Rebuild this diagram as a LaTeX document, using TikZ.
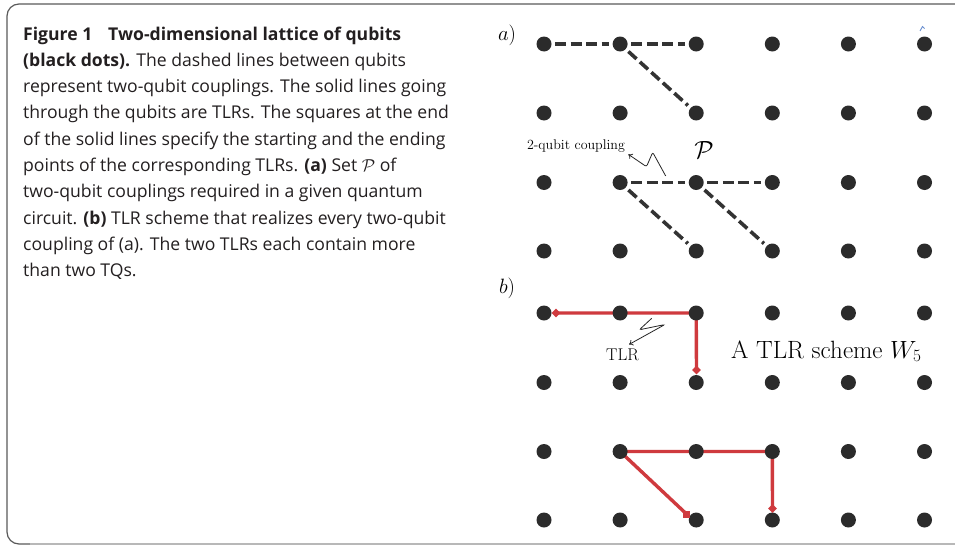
\documentclass[tikz,border=0pt]{standalone}
\usepackage{fontspec}
\newfontfamily\capfont{Open Sans}
\usetikzlibrary{shapes.geometric,arrows.meta}
\pgfdeclarelayer{background}
\pgfsetlayers{background,main}
\definecolor{dotc}{HTML}{2B2B2B}
\definecolor{dashc}{HTML}{333333}
\definecolor{tlrc}{HTML}{CF3A3E}
\definecolor{txtc}{HTML}{231F20}
\definecolor{framec}{HTML}{5A5A5A}
\definecolor{framel}{HTML}{B8B8B8}
\definecolor{markc}{HTML}{6A8FD0}
\begin{document}
\begin{tikzpicture}[x=1pt,y=-1pt,
  qubit/.style={circle,fill=dotc,inner sep=0pt,minimum size=15pt},
  coupling/.style={draw=dashc,line width=3.6pt,dash pattern=on 11pt off 4.5pt,shorten <=3.5pt,shorten >=3.5pt},
  tlr/.style={draw=tlrc,line width=3.4pt},
  tlrdiamond/.style={diamond,fill=tlrc,inner sep=0pt,minimum size=9pt},
  tlrsquare/.style={rectangle,fill=tlrc,inner sep=0pt,minimum size=7pt},
  pointer/.style={draw=black!85,line width=0.8pt,rounded corners=2pt,-{To[length=4pt,width=6pt]}},
  capline/.style={anchor=base west,inner sep=0pt,font=\capfont\fontsize{17.6}{20}\selectfont,text=txtc},
  smalllbl/.style={font=\fontsize{14}{16}\selectfont,inner sep=0pt},
  panellbl/.style={font=\fontsize{20}{24}\selectfont,inner sep=0pt}
]
\useasboundingbox (0,0) rectangle (955,546);
\begin{pgfonlayer}{background}
\fill[white] (0,0) rectangle (955,546);
\end{pgfonlayer}
% frame
\draw[framec,line width=1.2pt,rounded corners=12pt] (955,4) -- (7,4) -- (7,544) -- (30,544);
\draw[framel,line width=1.2pt] (30,544) -- (955,544);
% caption
\foreach \i/\t in {
 1/{\textbf{Figure 1}\hspace{0.9em}\textbf{Two-dimensional lattice of qubits}},
 2/{\textbf{(black dots).} The dashed lines between qubits},
 3/{represent two-qubit couplings. The solid lines going},
 4/{through the qubits are TLRs. The squares at the end},
 5/{of the solid lines specify the starting and the ending},
 6/{points of the corresponding TLRs. \textbf{(a)} Set $\mathcal{P}$ of},
 7/{two-qubit couplings required in a given quantum},
 8/{circuit. \textbf{(b)} TLR scheme that realizes every two-qubit},
 9/{coupling of (a). The two TLRs each contain more},
 10/{than two TQs.}}
 \node[capline] (cap\i) at (23,{40+26.33*(\i-1)}) {\t};
% qubits
\foreach \r/\y in {1/44,2/113,3/182.5,4/251}
  \foreach \c in {1,...,6}
    \node[qubit] (a-\r-\c) at ({544+76.1*(\c-1)},\y) {};
\foreach \r/\y in {1/313,2/382.5,3/451.5,4/520}
  \foreach \c in {1,...,6}
    \node[qubit] (b-\r-\c) at ({544+76.1*(\c-1)},\y) {};
% couplings
\begin{pgfonlayer}{background}
\draw[coupling] (a-1-1) -- (a-1-2);
\draw[coupling] (a-1-2) -- (a-1-3);
\draw[coupling] (a-1-2) -- (a-2-3);
\draw[coupling] (a-3-2) -- (a-3-3);
\draw[coupling] (a-3-3) -- (a-3-4);
\draw[coupling] (a-3-2) -- (a-4-3);
\draw[coupling] (a-3-3) -- (a-4-4);
\end{pgfonlayer}
% TLRs
\coordinate (t1s) at (556,313);
\coordinate (t1e) at (696.5,370);
\coordinate (t2s) at (686.5,514);
\coordinate (t2e) at (772.5,508.5);
\begin{pgfonlayer}{background}
\draw[tlr] (t1s) -- (b-1-3.center) -- (t1e);
\draw[tlr] (t2s) -- (b-3-2.center) -- (b-3-4.center) -- (t2e);
\end{pgfonlayer}
\node[tlrdiamond] (m1) at (t1s) {};
\node[tlrdiamond] (m2) at (t1e) {};
\node[tlrsquare] (m3) at (t2s) {};
\node[tlrdiamond] (m4) at (t2e) {};
% labels
\node[panellbl] (la) at (507,35) {$a)$};
\node[panellbl] (lb) at (507,288) {$b)$};
\node[smalllbl,anchor=base] (lcoup) at (576,149) {2-qubit coupling};
\node[font=\fontsize{25}{30}\selectfont,inner sep=0pt] (lp) at (704,150) {$\mathcal{P}$};
\node[font=\fontsize{17}{20}\selectfont,inner sep=0pt,anchor=base] (ltlr) at (622.5,360) {TLR};
\node[font=\fontsize{25}{30}\selectfont,inner sep=0pt,anchor=base west] (lw) at (731,358) {A TLR scheme $W_5$};
% pointers
\coordinate (p1a) at (665.7,176);
\coordinate (p1b) at (652.7,152.3);
\coordinate (p1c) at (646.5,166.7);
\coordinate (p1d) at (628.3,154.3);
\draw[pointer] (p1a) -- (p1b) -- (p1c) -- (p1d);
\coordinate (p2a) at (651.7,318.3);
\coordinate (p2b) at (639.3,329.8);
\coordinate (p2c) at (665,324.5);
\coordinate (p2d) at (629,344.5);
\draw[pointer] (p2a) -- (p2b) -- (p2c) -- (p2d);
% stray mark
\draw[markc,line width=0.9pt] (920,31) -- (922.5,26.5) -- (924.5,28.5);
\end{tikzpicture}
\end{document}
